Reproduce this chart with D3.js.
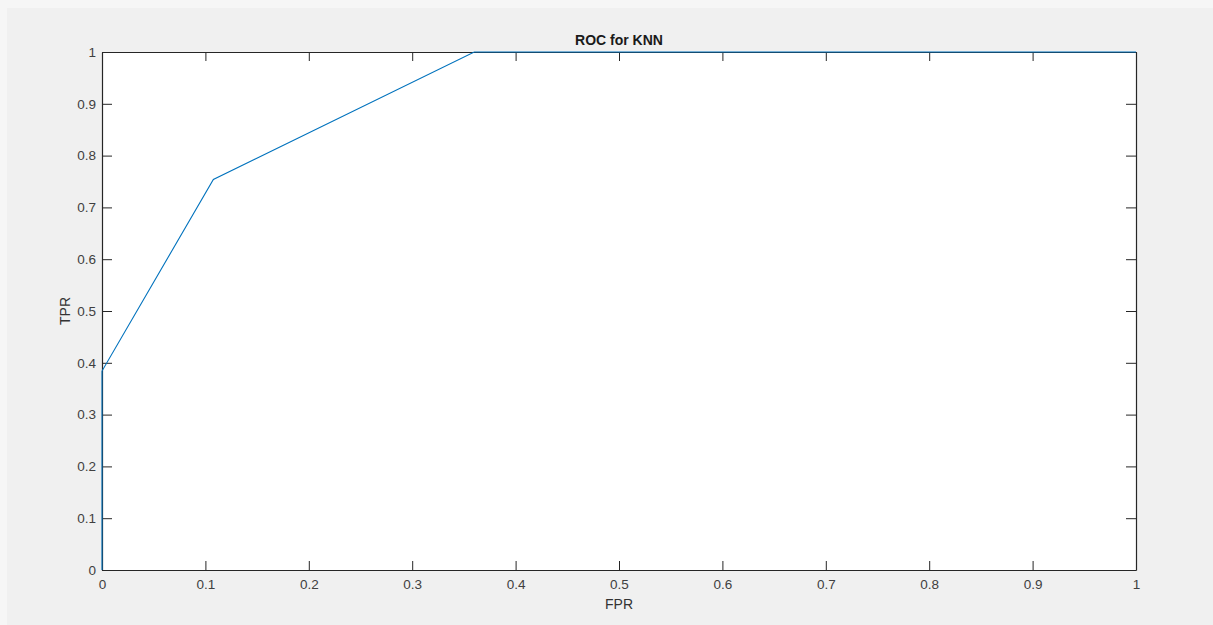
<!DOCTYPE html>
<html>
<head>
<meta charset="utf-8">
<script src="https://cdn.jsdelivr.net/npm/d3@7"></script>
<style>
  html, body { margin: 0; padding: 0; background: #f0f0f0; }
  svg { display: block; }
</style>
</head>
<body>
<div id="chart"></div>
<script>
// ROC curve points
var fpr = [0, 0, 0.1077, 0.36, 1];
var tpr = [0, 0.384, 0.754, 1, 1];
var xTicks = [0, 0.1, 0.2, 0.3, 0.4, 0.5, 0.6, 0.7, 0.8, 0.9, 1];
var yTicks = [0, 0.1, 0.2, 0.3, 0.4, 0.5, 0.6, 0.7, 0.8, 0.9, 1];
var chartTitle = "ROC for KNN";
var xLabel = "FPR";
var yLabel = "TPR";

var W = 1213, H = 625;
var margin = {top: 52, right: 77, bottom: 55, left: 102};
var width = W - margin.left - margin.right,
    height = H - margin.top - margin.bottom;
var fontFam = "Arial, 'Liberation Sans', Helvetica, sans-serif";

var root = d3.select("#chart").append("svg")
    .attr("width", W)
    .attr("height", H);

// faint lighter strip round the figure
root.append("rect").attr("x", 0).attr("y", 0).attr("width", W).attr("height", H).attr("fill", "#f6f6f6");
root.append("rect").attr("x", 7).attr("y", 8).attr("width", W - 7).attr("height", H - 8).attr("fill", "#f0f0f0");

var svg = root.append("g")
    .attr("transform", "translate(" + margin.left + "," + margin.top + ")");

svg.append("rect")
    .attr("width", width)
    .attr("height", height)
    .attr("fill", "#ffffff");

var x = d3.scaleLinear().domain([0, 1]).range([0, width]);
var y = d3.scaleLinear().domain([0, 1]).range([height, 0]);

var fmt = function(d) { return d3.format("~g")(d); };

// bottom axis with inward ticks
var xAxis = svg.append("g")
    .attr("transform", "translate(0," + height + ")")
    .call(d3.axisBottom(x).tickValues(xTicks).tickFormat(fmt).tickSizeInner(-9).tickSizeOuter(0).tickPadding(9));
// left axis
var yAxis = svg.append("g")
    .call(d3.axisLeft(y).tickValues(yTicks).tickFormat(fmt).tickSizeInner(-10).tickSizeOuter(0).tickPadding(6));
// top and right (box on)
var xTop = svg.append("g")
    .call(d3.axisTop(x).tickValues(xTicks).tickFormat("").tickSizeInner(-9).tickSizeOuter(0));
var yRight = svg.append("g")
    .attr("transform", "translate(" + width + ",0)")
    .call(d3.axisRight(y).tickValues(yTicks).tickFormat("").tickSizeInner(-10).tickSizeOuter(0));

[xAxis, yAxis, xTop, yRight].forEach(function(g) {
    g.attr("font-family", fontFam).attr("font-size", 13.5);
    g.selectAll(".domain").attr("stroke", "#262626").attr("stroke-width", 1.2);
    g.selectAll(".tick line").attr("stroke", "#262626").attr("stroke-width", 1);
    g.selectAll(".tick text").attr("fill", "#404040");
});

// the curve
var line = d3.line()
    .x(function(d, i) { return x(fpr[i]); })
    .y(function(d, i) { return y(tpr[i]); });

svg.append("path")
    .datum(fpr)
    .attr("fill", "none")
    .attr("stroke", "#0072bd")
    .attr("stroke-width", 1.1)
    .attr("d", line);

// title and axis labels
svg.append("text")
    .attr("x", width / 2)
    .attr("y", -7)
    .attr("text-anchor", "middle")
    .style("font-family", fontFam)
    .style("font-size", "14px")
    .style("font-weight", "bold")
    .style("fill", "#1a1a1a")
    .text(chartTitle);

svg.append("text")
    .attr("x", width / 2)
    .attr("y", height + 39)
    .attr("text-anchor", "middle")
    .style("font-family", fontFam)
    .style("font-size", "14px")
    .style("fill", "#333333")
    .text(xLabel);

svg.append("text")
    .attr("x", -(height / 2))
    .attr("y", -32)
    .attr("transform", "rotate(-90)")
    .attr("text-anchor", "middle")
    .style("font-family", fontFam)
    .style("font-size", "14px")
    .style("fill", "#333333")
    .text(yLabel);
</script>
</body>
</html>
